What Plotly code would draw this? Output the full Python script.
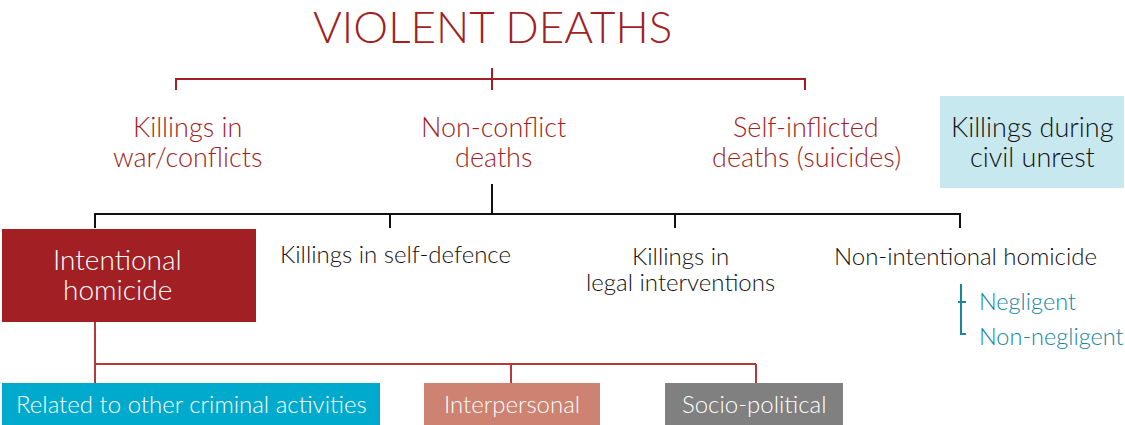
import plotly.graph_objects as go

W, H = 1125, 425
DARK_RED = "#A21F24"
TEAL = "#1786A2"
FONT = "Lato"

# ---- content ----
title = "VIOLENT DEATHS"
level1_labels = [["Killings in", "war/conflicts"], ["Non-conflict", "deaths"], ["Self-inflicted", "deaths (suicides)"]]
level1_x = [187, 493, 806]
civil_label = ["Killings during", "civil unrest"]
level2_labels = [["Killings in self-defence"], ["Killings in", "legal interventions"], ["Non-intentional homicide"]]
level2_x = [395, 680, 965]
intent_label = ["Intentional", "homicide"]
sub_nonint = ["Negligent", "Non-negligent"]
bottom_labels = ["Related to other criminal activities", "Interpersonal", "Socio-political"]
bottom_colors = ["#00AACC", "#CD8272", "#808080"]
bottom_x0 = [2, 424, 665]
bottom_x1 = [380, 600, 843]

fig = go.Figure()
shapes = []
ann = []

def line(x0, y0, x1, y1, color, w=2):
    shapes.append(dict(type="line", x0=x0, y0=y0, x1=x1, y1=y1, xref="x", yref="y",
                       line=dict(color=color, width=w)))

def rect(x0, y0, x1, y1, color):
    shapes.append(dict(type="rect", x0=x0, y0=y0, x1=x1, y1=y1, xref="x", yref="y",
                       fillcolor=color, line=dict(width=0), layer="below"))

def text(x, y, s, size, color, anchor="center", weight=300, family=FONT):
    ann.append(dict(x=x, y=y, text=s, xref="x", yref="y", showarrow=False,
                    xanchor=anchor, yanchor="middle", align=anchor,
                    font=dict(size=size, color=color, family=family, weight=weight)))

def lines(x, y0, gap, parts, size, color, anchor="center", weight=300):
    for i, p in enumerate(parts):
        text(x, y0 + i * gap, p, size, color, anchor, weight)

# title
text(492, 26, title, 44, DARK_RED, weight=300)

# top red bracket
line(176, 79, 805, 79, DARK_RED)
line(492, 68, 492, 90, DARK_RED)
line(176, 78, 176, 90, DARK_RED)
line(805, 78, 805, 90, DARK_RED)

for lab, x in zip(level1_labels, level1_x):
    lines(x, 126, 30, lab, 27, DARK_RED)

# civil unrest box
rect(940, 96, 1124, 188, "#C8E8EF")
lines(1032, 126, 30, civil_label, 27, "#111111", weight=300)

# black bracket
line(492, 184, 492, 214, "#111111")
line(95, 214, 960, 214, "#111111")
for x in [95, 390, 675, 960]:
    line(x, 213, x, 228, "#111111")

# intentional homicide box
rect(2, 229, 256, 322, DARK_RED)
lines(117, 259, 30, intent_label, 28, "white")

# level 2 labels
lines(level2_x[0], 253, 26, level2_labels[0], 24, "#111111")
lines(level2_x[1], 255, 26, level2_labels[1], 24, "#111111")
lines(level2_x[2], 255, 26, level2_labels[2], 24, "#111111")

# teal bracket
line(961, 284, 961, 334, TEAL)
line(958, 302, 966, 302, TEAL)
line(960, 334, 966, 334, TEAL)
text(977, 301, sub_nonint[0], 23.5, TEAL, anchor="left")
text(977, 336, sub_nonint[1], 23.5, TEAL, anchor="left")

# bottom red bracket
line(95, 322, 95, 383, "#B8383C")
line(95, 364, 756, 364, "#B8383C")
line(511, 364, 511, 383, "#B8383C")
line(756, 364, 756, 383, "#B8383C")

for lab, c, x0, x1 in zip(bottom_labels, bottom_colors, bottom_x0, bottom_x1):
    rect(x0, 383, x1, 425, c)
    text((x0 + x1) / 2, 403, lab, 24, "white")

fig.update_layout(
    width=W, height=H,
    margin=dict(l=0, r=0, t=0, b=0),
    paper_bgcolor="white", plot_bgcolor="white",
    xaxis=dict(range=[0, W], visible=False, fixedrange=True),
    yaxis=dict(range=[H, 0], visible=False, fixedrange=True),
    shapes=shapes, annotations=ann, showlegend=False,
)
fig.write_html(
    "out.html",
    config={"displayModeBar": False, "responsive": False},
    post_script="document.body.style.margin='0px';document.body.style.overflow='hidden';",
)
